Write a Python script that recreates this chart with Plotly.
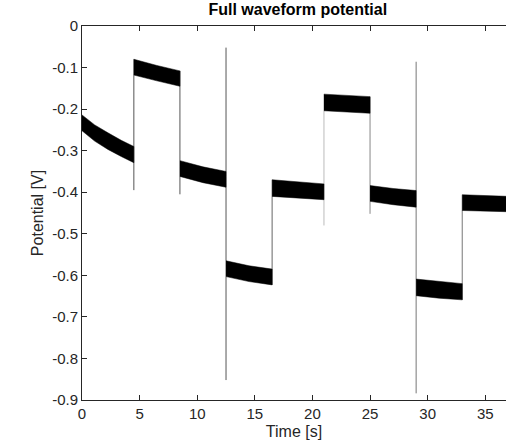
import plotly.graph_objects as go

# Segment envelope data
seg_t = [
    [0, 1.1, 2.25, 3.4, 4.5], [4.5, 6.5, 8.5], [8.5, 10.5, 12.5], [12.5, 14.5, 16.5],
    [16.5, 18.75, 21], [21, 23, 25], [25, 27, 29], [29, 31, 33], [33, 35, 37],
]
seg_upper = [
    [-0.214, -0.238, -0.257, -0.275, -0.290], [-0.080, -0.095, -0.108],
    [-0.324, -0.339, -0.350], [-0.565, -0.577, -0.585], [-0.370, -0.375, -0.380],
    [-0.164, -0.167, -0.170], [-0.384, -0.391, -0.396], [-0.609, -0.615, -0.620],
    [-0.406, -0.408, -0.410],
]
seg_lower = [
    [-0.252, -0.277, -0.297, -0.314, -0.329], [-0.118, -0.132, -0.145],
    [-0.362, -0.377, -0.388], [-0.603, -0.615, -0.623], [-0.410, -0.414, -0.418],
    [-0.204, -0.207, -0.210], [-0.422, -0.430, -0.436], [-0.649, -0.655, -0.659],
    [-0.444, -0.446, -0.447],
]

# Transition spikes
spike_t = [4.5, 8.5, 12.5, 16.5, 21, 25, 29, 33]
spike_top = [-0.080, -0.108, -0.052, -0.370, -0.164, -0.170, -0.086, -0.406]
spike_bottom = [-0.395, -0.405, -0.852, -0.623, -0.480, -0.452, -0.884, -0.659]
spike_color = ["#555", "#555", "#555", "#666", "#bbb", "#888", "#777", "#777"]

x_ticks = [0, 5, 10, 15, 20, 25, 30, 35]
y_ticks = [0, -0.1, -0.2, -0.3, -0.4, -0.5, -0.6, -0.7, -0.8, -0.9]
y_ticktext = ["0", "-0.1", "-0.2", "-0.3", "-0.4", "-0.5", "-0.6", "-0.7", "-0.8", "-0.9"]

fig = go.Figure()

for t, c, lo, hi in zip(spike_t, spike_color, spike_bottom, spike_top):
    fig.add_trace(go.Scatter(x=[t, t], y=[lo, hi], mode="lines",
                             line=dict(color=c, width=1), hoverinfo="skip"))

for t, u, l in zip(seg_t, seg_upper, seg_lower):
    fig.add_trace(go.Scatter(
        x=t + t[::-1], y=u + l[::-1], mode="lines", fill="toself",
        fillcolor="black", line=dict(color="black", width=0.5),
        hoverinfo="skip"))

font_family = "Liberation Sans, Arial, sans-serif"
axis_col = "#262626"

fig.update_layout(
    width=506, height=448,
    margin=dict(l=82, r=0, t=26, b=48),
    paper_bgcolor="white", plot_bgcolor="white",
    showlegend=False,
    font=dict(family=font_family, size=15, color=axis_col),
    title=dict(text="<b>Full waveform potential</b>", x=0.509, xref="paper",
               xanchor="center",
               y=1, yref="container", yanchor="top", pad=dict(t=4),
               font=dict(size=16, color="black", family=font_family)),
    xaxis=dict(range=[0, 36.8], tickvals=x_ticks, ticks="inside", ticklen=5,
               tickcolor=axis_col, showline=True, linecolor=axis_col, linewidth=1,
               mirror="ticks", showgrid=False, zeroline=False,
               title=dict(text="Time [s]", standoff=4, font=dict(size=16))),
    yaxis=dict(range=[-0.9, 0], tickvals=y_ticks, ticktext=y_ticktext,
               ticks="inside", ticklen=5, tickcolor=axis_col, showline=True,
               linecolor=axis_col, linewidth=1, mirror=False, showgrid=False,
               zeroline=False,
               title=dict(text="Potential [V]", standoff=4, font=dict(size=16))),
)

fig.write_html("out.html")
